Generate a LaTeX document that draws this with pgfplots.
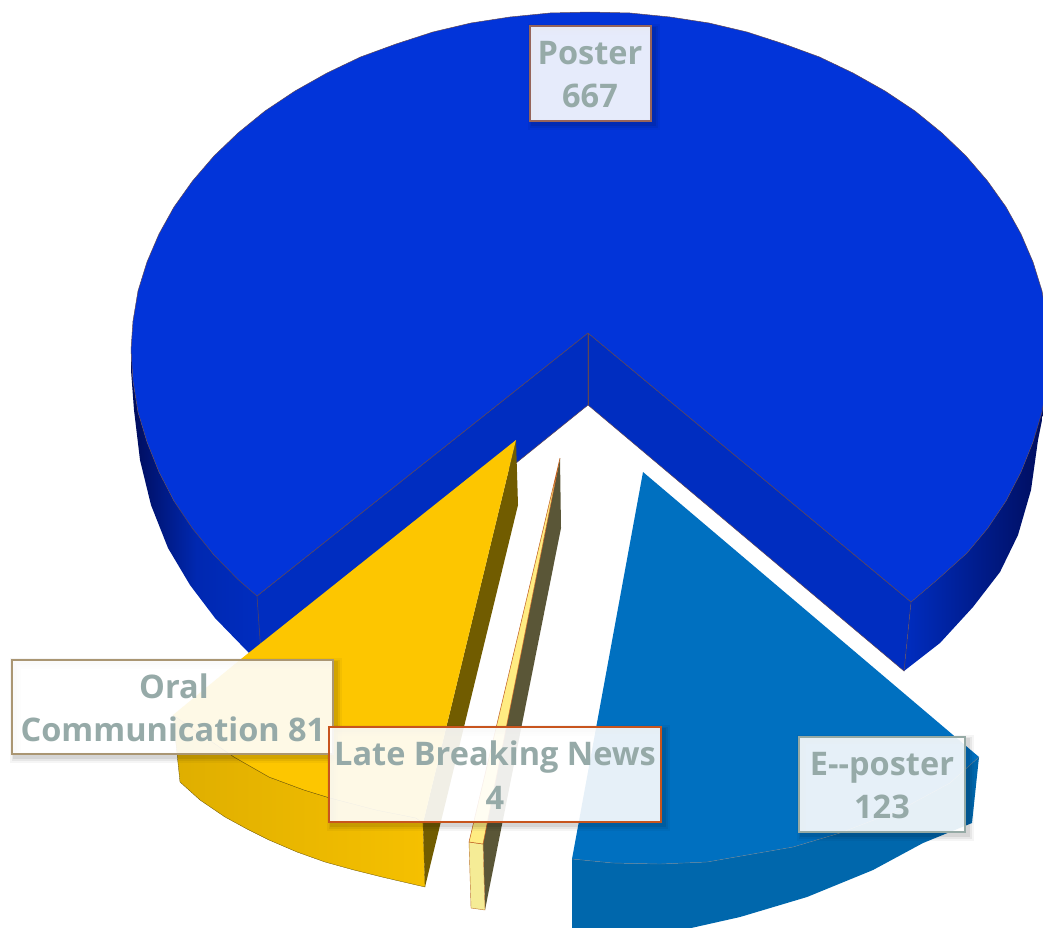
\documentclass[border=0pt]{standalone}
\usepackage{fontspec}
\setmainfont{Open Sans}
\usepackage{pgfplots}
\pgfplotsset{compat=1.18}
\definecolor{bluetop}{RGB}{2,52,217}
\definecolor{bluewall}{RGB}{0,45,192}
\definecolor{bluedark}{RGB}{0,12,90}
\definecolor{edgeb}{RGB}{95,70,85}
\definecolor{yeltop}{RGB}{253,198,0}
\definecolor{yelwall}{RGB}{113,92,0}
\definecolor{etop}{RGB}{0,112,192}
\definecolor{eside}{RGB}{0,103,172}
\definecolor{lab}{RGB}{150,170,168}
\newcommand{\shadowbox}[4]{%
  \draw[black,opacity=.04,line width=11pt] (axis cs:#1+3,#2+3) rectangle (axis cs:#3+3,#4+3);
  \draw[black,opacity=.06,line width=7pt] (axis cs:#1+3,#2+3) rectangle (axis cs:#3+3,#4+3);
  \draw[black,opacity=.08,line width=4pt] (axis cs:#1+3,#2+3) rectangle (axis cs:#3+3,#4+3);
}
\begin{document}
\begin{tikzpicture}
\useasboundingbox (0,0) rectangle (1043pt,927pt);
\begin{axis}[at={(0,0)},anchor=south west,scale only axis,width=1043pt,height=927pt,
  xmin=0,xmax=1043,ymin=0,ymax=927,y dir=reverse,hide axis,clip=true]
% Poster: outer side, left
\addplot[draw=none,left color=bluedark,right color=bluewall,middle color=bluewall!85!bluedark] coordinates {
 (131,350)(131,370)(134,410)(140,460)(151,505)(168,548)(190,585)(215,618)(249,653)(262,668)(262,590)(214,555)(174,501)(159,472)(147,442)(138,412)(133,381)} --cycle;
% Poster: outer side, right
\addplot[draw=none,left color=bluewall,middle color=bluewall,right color=bluedark] coordinates {
 (904,671)(940,643)(973,607)(1000,572)(1018,535)(1031,490)(1038,440)(1046,400)(1049,360)(1049,350)(1047,381)(1033,442)(1021,472)(1006,501)(987.5,528.5)(967,553)(937,580)(911,602)} --cycle;
% Poster: inner walls
\addplot[draw=edgeb,line width=.5pt,fill=bluewall] coordinates {(588,333)(257,596)(262,668)(588,405)} --cycle;
\addplot[draw=edgeb,line width=.5pt,fill=bluewall] coordinates {(588,333)(911,602)(904,671)(588,405)} --cycle;
% Poster: top
\addplot[draw=edgeb,line width=.5pt,fill=bluetop] coordinates {
 (257,596)(238,579.5)(214,555)(192.5,528.5)(174,501)(159,472)(147,442)(138,412)(133,381)(131,350)
 (133,321)(138,291)(147,262)(159,234)(174,207)(192.5,181)(214,156)(238,133)(265,111)(295,91)(327,73)(360.5,57)(396,44)(433,32)(471,23)(510,17)(550,13)(590,12)
 (630,13)(670,17)(709,23)(747,32)(784,44)(819.5,57)(853,73)(885,91)(915,111)(942,133)(966,156)(987.5,181)(1006,207)(1021,234)(1033,262)(1042,291)(1047,321)(1049,350)
 (1047,381)(1042,412)(1033,442)(1021,472)(1006,501)(987.5,528.5)(967,553)(937,580)(911,602)(588,333)} --cycle;
\addplot[draw=edgeb,line width=.5pt] coordinates {(588,333)(588,405)};
% Oral Communication
\addplot[draw=none,fill=yelwall] coordinates {(516,440)(518,505)(425,887)(423,823)} --cycle;
\addplot[draw=black!60!yeltop,line width=.3pt,left color=yeltop!88!black,right color=yeltop!97!black] coordinates {
 (173,715)(180,782)(200,800)(225,817)(247,829)(269,840)(297,852)(325,862)(354,870)(382,877)(425,887)(423,823)(416,818)(330,798)(304,790)(269,777)(234,757)} --cycle;
\addplot[draw=none,fill=yeltop] coordinates {(516,440)(241,659)(173,715)(234,757)(269,777)(304,790)(330,798)(376,810)(416,818)(423,823)} --cycle;
\addplot[draw=black!60!yeltop,line width=.3pt] coordinates {(173,715)(234,757)(269,777)(304,790)(330,798)(376,810)(416,818)(423,823)};
% Late Breaking News
\addplot[draw=none,fill={rgb,255:red,90;green,86;blue,55}] coordinates {(560,458)(561,528)(485,910)(483,843)} --cycle;
\addplot[draw={rgb,255:red,190;green,120;blue,50},line width=.4pt,fill={rgb,255:red,245;green,236;blue,150}] coordinates {(469,842)(483,844)(485,910)(471,908)} --cycle;
\addplot[draw={rgb,255:red,190;green,90;blue,30},line width=.5pt,fill={rgb,255:red,255;green,236;blue,130}] coordinates {(560,458)(469,842)(483,844)} --cycle;
% E-poster
\addplot[draw=none,fill=eside] coordinates {
 (572,859)(572,940)(660,935)(740,917)(807,897)(873,870)(923,843)(972,823)(979,757)(950,783)(900,810)(840,833)(793,847)(747,855)(707,862)(660,864)(613,863)} --cycle;
\addplot[draw=none,fill=etop] coordinates {(643,472)(979,757)(950,783)(900,810)(840,833)(793,847)(747,855)(707,862)(660,864)(613,863)(572,859)} --cycle;
\addplot[draw=gray!80!etop,line width=.4pt] coordinates {(979,757)(950,783)(900,810)(840,833)(793,847)(747,855)(707,862)(660,864)(613,863)(572,859)};
% Labels
\shadowbox{530}{26}{651}{121}
\shadowbox{12}{660}{333}{754}
\shadowbox{329}{727}{661}{822}
\shadowbox{799}{737}{965}{832}
\tikzset{lb/.style={fill=white,fill opacity=.9,text opacity=1,line width=2.8pt,draw opacity=1}}
\draw[lb,draw={rgb,255:red,150;green,100;blue,90}] (axis cs:530,26) rectangle (axis cs:651,121);
\draw[lb,draw={rgb,255:red,170;green,150;blue,115}] (axis cs:12,660) rectangle (axis cs:333,754);
\draw[lb,draw={rgb,255:red,200;green,85;blue,30}] (axis cs:329,727) rectangle (axis cs:661,822);
\draw[lb,draw={rgb,255:red,150;green,170;blue,165}] (axis cs:799,737) rectangle (axis cs:965,832);
\tikzset{tx/.style={text=lab,font=\fontsize{32.5}{38}\selectfont\bfseries,inner sep=0pt,anchor=base}}
\node[tx] at (axis cs:590,64) {Poster};
\node[tx] at (axis cs:590,107) {667};
\node[tx] at (axis cs:174,698) {Oral};
\node[tx] at (axis cs:173,741) {Communication 81};
\node[tx] at (axis cs:495,765) {Late Breaking News};
\node[tx] at (axis cs:495,809) {4};
\node[tx] at (axis cs:882,775) {E{-}{-}poster};
\node[tx] at (axis cs:882,818) {123};
\end{axis}
\end{tikzpicture}
\end{document}
